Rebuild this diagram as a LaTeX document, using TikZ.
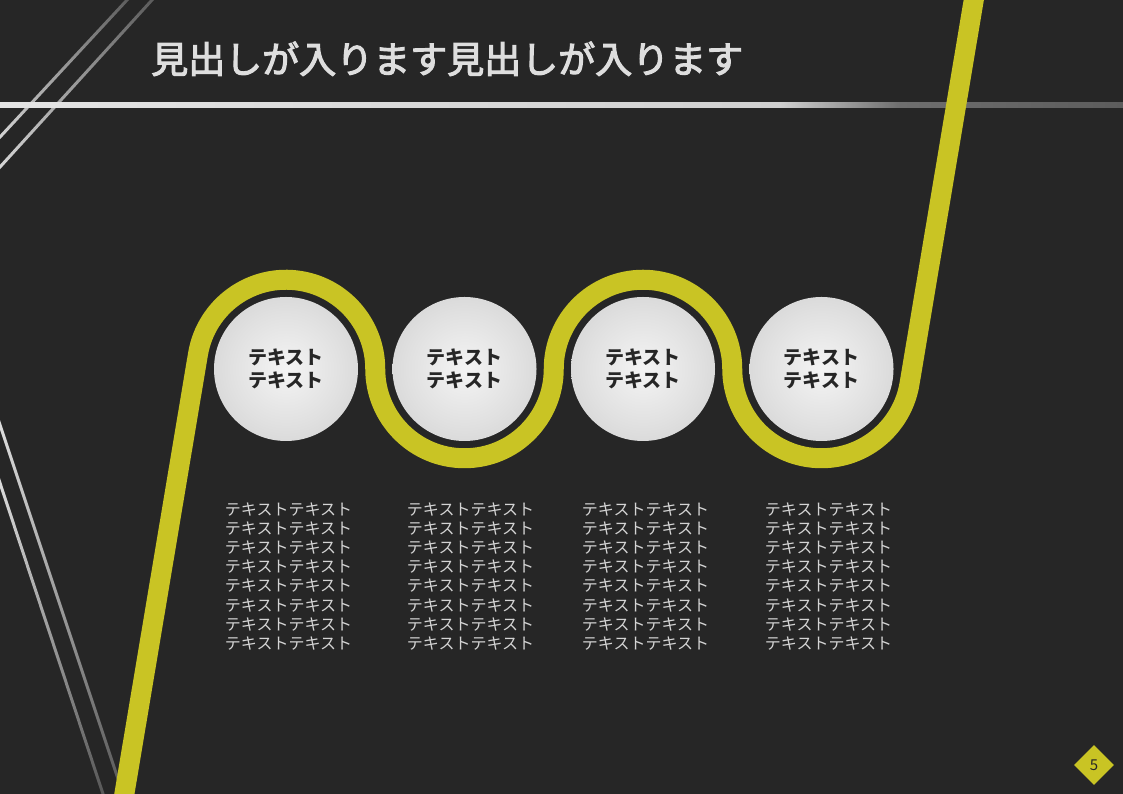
\documentclass[tikz,border=0pt]{standalone}
\usepackage{fontspec}
\setmainfont{Noto Sans CJK JP}
\newfontfamily\medjp[FakeBold=3]{Noto Sans CJK JP}
\usetikzlibrary{shapes.geometric,calc}
\definecolor{bg}{HTML}{262626}
\definecolor{ylw}{HTML}{C9C424}
\definecolor{titlec}{HTML}{DEDEDE}
\definecolor{bodyc}{HTML}{D4D4D4}
\definecolor{inkc}{HTML}{262626}
\definecolor{ballin}{HTML}{F4F4F4}
\definecolor{ballmidA}{HTML}{E0E0E0}
\definecolor{ballmid}{HTML}{CCCCCC}
\definecolor{ballout}{HTML}{A4A4A4}
\definecolor{lineA}{HTML}{E4E4E4}
\definecolor{lineB}{HTML}{D0D0D0}
\definecolor{lineC}{HTML}{6E6E6E}
\definecolor{lineD}{HTML}{5C5C5C}
\definecolor{dlight}{HTML}{E0E0E0}
\definecolor{ddark}{HTML}{555555}
\pgfdeclareradialshading{ball}{\pgfpoint{0bp}{0bp}}{color(0bp)=(ballin); color(20bp)=(ballmidA); color(38bp)=(ballmid); color(50bp)=(ballout)}
\newcommand\gstripe[6]{%
  \coordinate (ga) at (#1,794-#2);
  \coordinate (gb) at (#3,794-#4);
  \shade[top color=#5,bottom color=#6]
    ($(ga)!1.5pt!90:(gb)$) -- ($(gb)!1.5pt!-90:(ga)$) --
    ($(gb)!1.5pt!90:(ga)$) -- ($(ga)!1.5pt!-90:(gb)$) -- cycle;
}
\tikzset{
  ball/.style={circle,minimum size=144pt,inner sep=0pt,shading=ball,
    font=\fontsize{19}{23}\selectfont\bfseries,text=inkc,align=center},
  bodytext/.style={font=\fontsize{16}{19.1}\selectfont,text=bodyc,align=center,inner sep=0pt},
  path line/.style={draw=ylw,line width=20pt},
}
\begin{document}
\begin{tikzpicture}[x=1pt,y=1pt]
\useasboundingbox (0,0) rectangle (1123,794);
\fill[bg] (0,0) rectangle (1123,794);
\clip (0,0) rectangle (1123,794);
% decorative diagonal lines
\gstripe{136.3}{-10}{-12}{150}{ddark}{dlight}
\gstripe{161.1}{-10}{-11.8}{180}{ddark}{dlight}
\gstripe{-3.3}{415}{125}{800}{dlight}{ddark}
\gstripe{-4.3}{470}{105}{800}{dlight}{ddark}
% horizontal rule
\shade[left color=lineA,right color=lineB] (0,686) rectangle (780,691);
\shade[left color=lineB,right color=lineC] (780,686) rectangle (900,691);
\shade[left color=lineC,right color=lineD] (900,686) rectangle (1123,691);
% title
\node[anchor=base west,inner sep=0pt,text=titlec,font=\fontsize{37}{40}\selectfont\medjp] (title) at (151,721) {見出しが入ります見出しが入ります};
% yellow path
\draw[path line] (121,-20) -- (197.97,439.73)
  arc[start angle=170.5,end angle=0,radius=89.25]
  arc[start angle=180,end angle=360,radius=89.25]
  arc[start angle=180,end angle=0,radius=89.25]
  arc[start angle=180,end angle=350.5,radius=89.25]
  -- (977.1,814);
% circles
\node[ball] (c1) at (286,425) {テキスト\\テキスト};
\node[ball] (c2) at (464.5,425) {テキスト\\テキスト};
\node[ball] (c3) at (643,425) {テキスト\\テキスト};
\node[ball] (c4) at (821.5,425) {テキスト\\テキスト};
% body texts
\foreach \n/\x in {1/288.5,2/470.5,3/645.5,4/828.5}{
  \node[bodytext] (t\n) at (\x,217.5) {テキストテキスト\\テキストテキスト\\テキストテキスト\\テキストテキスト\\テキストテキスト\\テキストテキスト\\テキストテキスト\\テキストテキスト};
}
% page number
\node[diamond,fill=ylw,minimum width=40pt,minimum height=40pt,inner sep=0pt,
  text=inkc,font=\fontsize{15}{17}\selectfont] (pagenum) at (1094,29) {5};
\end{tikzpicture}
\end{document}
